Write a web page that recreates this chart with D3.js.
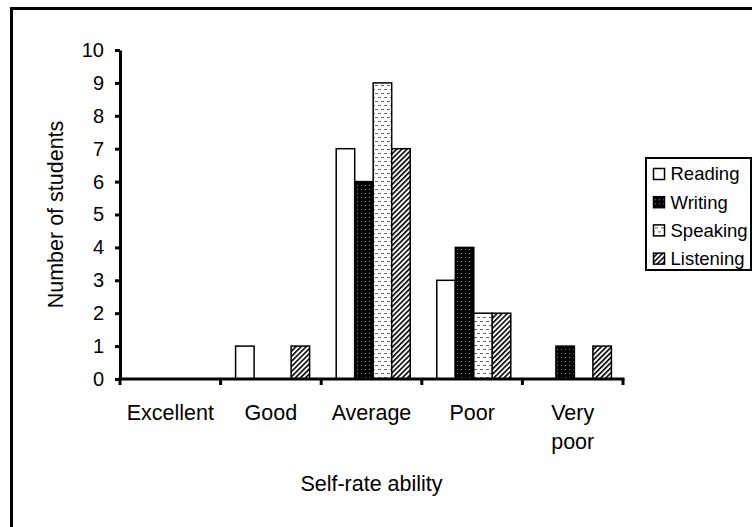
<!DOCTYPE html>
<html>
<head>
<meta charset="utf-8">
<script src="https://cdn.jsdelivr.net/npm/d3@7"></script>
<style>
  body { margin: 0; background: #fff; }
  svg { display: block; font-family: "Liberation Sans", Arial, sans-serif; }
</style>
</head>
<body>
<div id="chart"></div>
<script>
// Chart data
const categories = ['Excellent', 'Good', 'Average', 'Poor', 'Very poor'];
const seriesNames = ['Reading', 'Writing', 'Speaking', 'Listening'];
const reading = [0, 1, 7, 3, 0];
const writing = [0, 0, 6, 4, 1];
const speaking = [0, 0, 9, 2, 0];
const listening = [0, 1, 7, 2, 1];
const yTicks = [0, 1, 2, 3, 4, 5, 6, 7, 8, 9, 10];

const seriesValues = [reading, writing, speaking, listening];

const width = 752;
const height = 527;
const plot = { left: 120, right: 623, top: 50, bottom: 379 };

const svg = d3.select('#chart')
  .append('svg')
  .attr('width', width)
  .attr('height', height);

// Fill patterns, one per skill
const defs = svg.append('defs');

const pWriting = defs.append('pattern')
  .attr('id', 'pat-writing')
  .attr('patternUnits', 'userSpaceOnUse')
  .attr('width', 4)
  .attr('height', 4);
pWriting.append('rect').attr('width', 4).attr('height', 4).attr('fill', '#000');
pWriting.append('rect').attr('x', 1).attr('y', 1).attr('width', 1).attr('height', 1).attr('fill', '#8a8a8a');

const pSpeaking = defs.append('pattern')
  .attr('id', 'pat-speaking')
  .attr('patternUnits', 'userSpaceOnUse')
  .attr('width', 6)
  .attr('height', 8);
pSpeaking.append('rect').attr('width', 6).attr('height', 8).attr('fill', '#fff');
pSpeaking.append('rect').attr('x', 0).attr('y', 1).attr('width', 3).attr('height', 1).attr('fill', '#666');
pSpeaking.append('rect').attr('x', 3).attr('y', 5).attr('width', 3).attr('height', 1).attr('fill', '#666');

const pListening = defs.append('pattern')
  .attr('id', 'pat-listening')
  .attr('patternUnits', 'userSpaceOnUse')
  .attr('width', 3.6)
  .attr('height', 6)
  .attr('patternTransform', 'rotate(45)');
pListening.append('rect').attr('width', 3.6).attr('height', 6).attr('fill', '#fff');
pListening.append('rect').attr('width', 1.6).attr('height', 6).attr('fill', '#000');

const fills = ['#fff', 'url(#pat-writing)', 'url(#pat-speaking)', 'url(#pat-listening)'];

// Outer frame (only left and top edges fall inside the picture)
svg.append('rect')
  .attr('x', 11.5)
  .attr('y', 8.5)
  .attr('width', 1000)
  .attr('height', 1000)
  .attr('fill', 'none')
  .attr('stroke', '#000')
  .attr('stroke-width', 3);

// Scales
const x = d3.scaleBand()
  .domain(categories)
  .range([plot.left, plot.right]);

const xSub = d3.scaleBand()
  .domain(seriesNames)
  .range([15, 89]);

const y = d3.scaleLinear()
  .domain([0, 10])
  .range([plot.bottom, plot.top]);

// Bars
seriesNames.forEach((name, si) => {
  svg.append('g')
    .selectAll('rect')
    .data(categories.map((c, ci) => ({ cat: c, value: seriesValues[si][ci] })).filter(d => d.value > 0))
    .join('rect')
    .attr('x', d => x(d.cat) + xSub(name))
    .attr('y', d => y(d.value))
    .attr('width', xSub.bandwidth())
    .attr('height', d => y(0) - y(d.value))
    .attr('fill', fills[si])
    .attr('stroke', '#000')
    .attr('stroke-width', 1.5);
});

// Y axis
const yAxis = svg.append('g')
  .attr('transform', `translate(${plot.left},0)`)
  .call(d3.axisLeft(y).tickValues(yTicks).tickSize(5).tickSizeOuter(0).tickPadding(11));
yAxis.select('.domain').attr('stroke-width', 3);
yAxis.selectAll('.tick line').attr('stroke-width', 3);
yAxis.selectAll('.tick text')
  .style('font-size', '20px')
  .style('font-family', '"Liberation Sans", Arial, sans-serif')
  .attr('fill', '#000');

// X axis line with ticks on category boundaries
const xAxis = svg.append('g');
xAxis.append('line')
  .attr('x1', plot.left - 1.5)
  .attr('x2', plot.right + 1.5)
  .attr('y1', y(0))
  .attr('y2', y(0))
  .attr('stroke', '#000')
  .attr('stroke-width', 3);

const boundaries = categories.map(c => x(c)).concat([x.range()[1]]);
xAxis.selectAll('line.tick')
  .data(boundaries)
  .join('line')
  .attr('class', 'tick')
  .attr('x1', d => d)
  .attr('x2', d => d)
  .attr('y1', y(0))
  .attr('y2', y(0) + 6)
  .attr('stroke', '#000')
  .attr('stroke-width', 3);

// Category labels (wrap at spaces)
xAxis.selectAll('text.cat')
  .data(categories)
  .join('text')
  .attr('class', 'cat')
  .attr('x', d => x(d) + x.bandwidth() / 2)
  .attr('y', 420)
  .attr('text-anchor', 'middle')
  .style('font-size', '21.5px')
  .each(function (d) {
    const words = d.split(' ');
    d3.select(this).selectAll('tspan')
      .data(words)
      .join('tspan')
      .attr('x', x(d) + x.bandwidth() / 2)
      .attr('dy', (w, i) => i === 0 ? 0 : 29)
      .text(w => w);
  });

// Axis titles
svg.append('text')
  .attr('x', (plot.left + plot.right) / 2)
  .attr('y', 491)
  .attr('text-anchor', 'middle')
  .style('font-size', '21.5px')
  .text('Self-rate ability');

svg.append('text')
  .attr('transform', `translate(63, ${(plot.top + plot.bottom) / 2}) rotate(-90)`)
  .attr('text-anchor', 'middle')
  .style('font-size', '21.5px')
  .text('Number of students');

// Legend
const legend = svg.append('g')
  .attr('transform', 'translate(646, 158)');

legend.append('rect')
  .attr('width', 105)
  .attr('height', 112)
  .attr('fill', '#fff')
  .attr('stroke', '#000')
  .attr('stroke-width', 2);

const items = legend.selectAll('g.item')
  .data(seriesNames)
  .join('g')
  .attr('class', 'item')
  .attr('transform', (d, i) => `translate(0, ${16 + i * 28.2})`);

items.append('rect')
  .attr('x', 7.5)
  .attr('y', -5.5)
  .attr('width', 11)
  .attr('height', 11)
  .attr('fill', (d, i) => fills[i])
  .attr('stroke', '#000')
  .attr('stroke-width', 1.5);

items.append('text')
  .attr('x', 24.5)
  .attr('dy', '0.35em')
  .style('font-size', '18.5px')
  .text(d => d);
</script>
</body>
</html>
